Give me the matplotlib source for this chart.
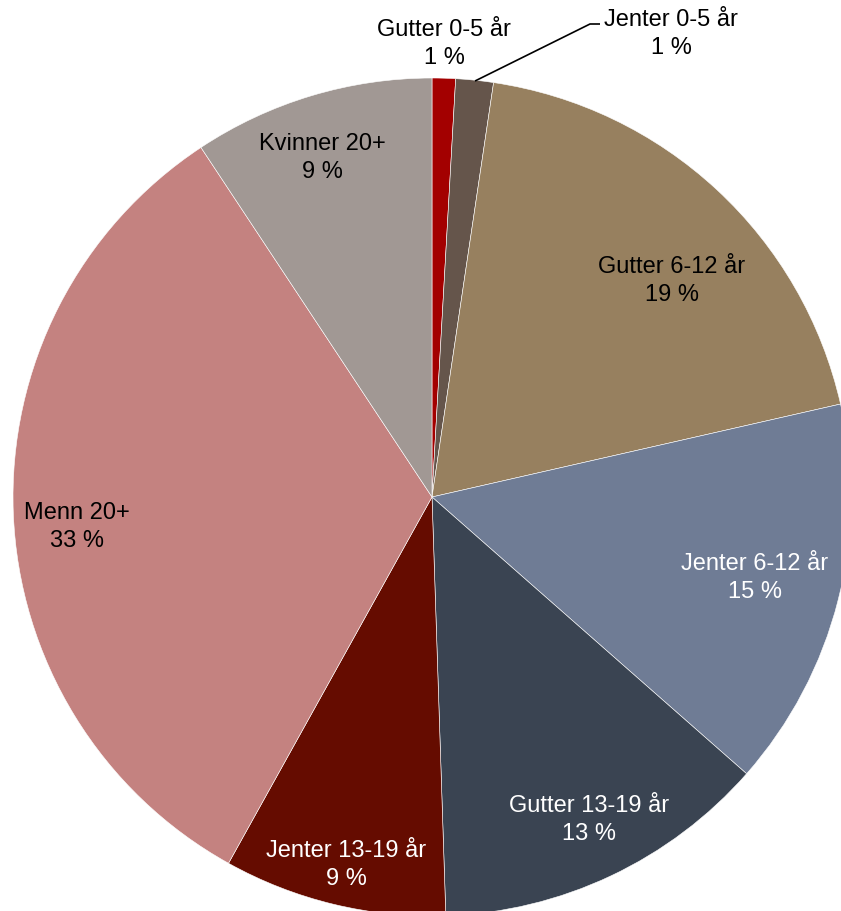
import matplotlib
matplotlib.use("Agg")
import matplotlib.pyplot as plt

categories = ["Gutter 0-5 år", "Jenter 0-5 år", "Gutter 6-12 år", "Jenter 6-12 år",
              "Gutter 13-19 år", "Jenter 13-19 år", "Menn 20+", "Kvinner 20+"]
shares = [0.9, 1.45, 19.1, 15.05, 13.0, 8.6, 32.65, 9.3]

colors = ["#A30000", "#65554B", "#97805F", "#6F7C95",
          "#3A4452", "#650C00", "#C48280", "#A19894"]
text_colors = ["black", "black", "black", "white", "white", "white", "black", "black"]
# label centres in pixel coords (x, y from top)
label_pos = [(444, 44), (671, 34), (672, 281), (755, 578),
             (589, 820), (346, 865), (77, 527), (322, 158)]

W, H = 841, 911
plt.rcParams['font.family'] = ['Liberation Sans', 'DejaVu Sans']
fig = plt.figure(figsize=(W / 100, H / 100), dpi=100)
ax = fig.add_axes([0, 0, 1, 1])

cx, cy, r = 432, H - 497, 419
ax.pie(shares, colors=colors, startangle=90, counterclock=False,
       center=(cx, cy), radius=r,
       wedgeprops=dict(edgecolor="white", linewidth=0.4))
ax.set_xlim(0, W)
ax.set_ylim(0, H)
ax.set_aspect('equal')
ax.axis('off')

total = sum(shares)
for cat, v, (lx, ly), tc in zip(categories, shares, label_pos, text_colors):
    pct = round(v / total * 100)
    ax.text(lx, H - ly, f"{cat}\n{pct} %", ha='center', va='center',
            multialignment='center', fontsize=17, color=tc, linespacing=1.3)

# leader line for Jenter 0-5 år
ax.plot([475, 590, 600], [H - 81, H - 24, H - 24], color='black', lw=1.2,
        solid_capstyle='butt', clip_on=False)

fig.savefig("out.png", dpi=100)
